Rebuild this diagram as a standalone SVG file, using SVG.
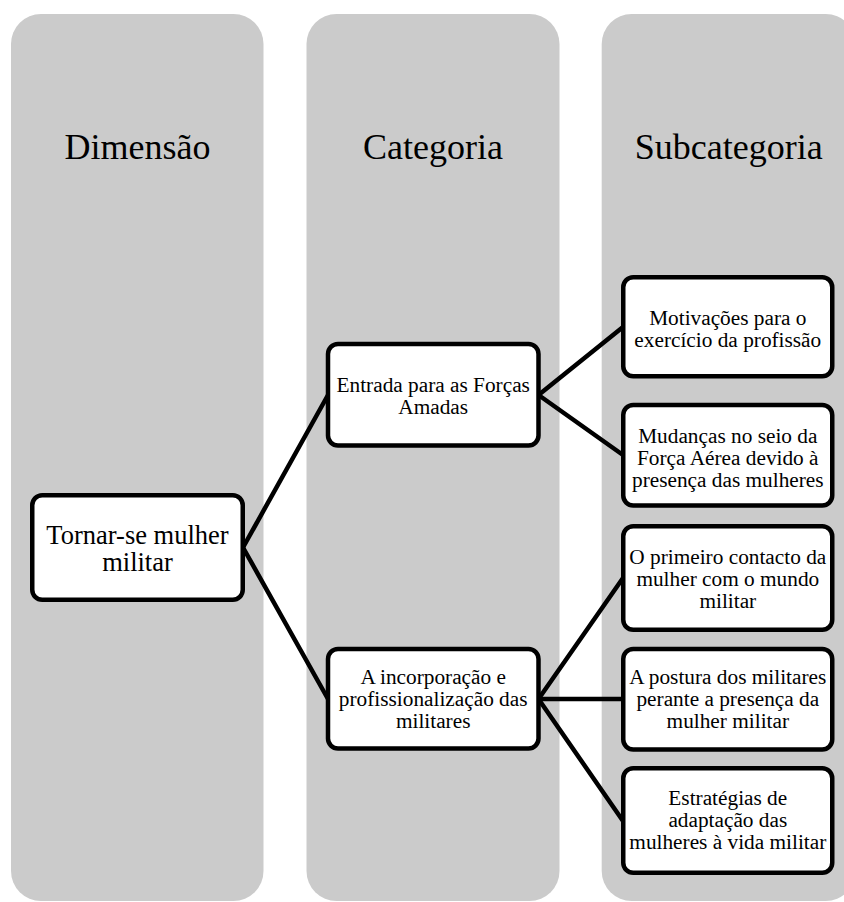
<svg xmlns="http://www.w3.org/2000/svg" width="844" height="902" viewBox="0 0 844 902">
<style>
.col{fill:#cbcbcb;}
.box{fill:#ffffff;stroke:#000000;stroke-width:4.5;}
text{font-family:'Liberation Serif','Times New Roman',Times,'DejaVu Serif',serif;fill:#000;text-anchor:middle;}
.hdr{font-size:36px;}
.t{font-size:21.3px;}
.tb{font-size:26.5px;}
.con{stroke:#000;stroke-width:4.5;fill:none;stroke-linecap:round;}
</style>
<rect x="0" y="0" width="844" height="902" fill="#ffffff"/>
<g id="columns">
<g id="col-dimensao"><rect class="col" x="11" y="14" width="252.5" height="887" rx="30" ry="30"/><text class="hdr" x="137.5" y="159">Dimensão</text></g>
<g id="col-categoria"><rect class="col" x="306.5" y="14" width="253" height="887" rx="30" ry="30"/><text class="hdr" x="433" y="159">Categoria</text></g>
<g id="col-subcategoria"><rect class="col" x="601.7" y="14" width="254" height="887" rx="30" ry="30"/><text class="hdr" x="728.7" y="159">Subcategoria</text></g>
</g>
<g id="connectors">
<line class="con" x1="243" y1="547.5" x2="328" y2="395"/>
<line class="con" x1="243" y1="547.5" x2="328" y2="699"/>
<line class="con" x1="538.5" y1="395" x2="623" y2="327"/>
<line class="con" x1="538.5" y1="395" x2="623" y2="455"/>
<line class="con" x1="538.5" y1="699" x2="623" y2="578"/>
<line class="con" x1="538.5" y1="699" x2="623" y2="699"/>
<line class="con" x1="538.5" y1="699" x2="623" y2="821"/>
</g>
<g id="node-tornar"><rect class="box" x="32.25" y="495.25" width="210.5" height="104.5" rx="10"/><text class="tb" x="137.5" y="543.5">Tornar-se mulher</text><text class="tb" x="137.5" y="570.5">militar</text></g>
<g id="node-entrada"><rect class="box" x="328" y="344" width="210.5" height="101.5" rx="10"/><text class="t" x="433.2" y="392">Entrada para as Forças</text><text class="t" x="433.2" y="414">Amadas</text></g>
<g id="node-incorporacao"><rect class="box" x="328" y="649" width="210.5" height="99.5" rx="10"/><text class="t" x="433.2" y="684">A incorporação e</text><text class="t" x="433.2" y="706">profissionalização das</text><text class="t" x="433.2" y="728">militares</text></g>
<g id="node-motivacoes"><rect class="box" x="623.25" y="277.25" width="209" height="99" rx="10"/><text class="t" x="727.8" y="324.5">Motivações para o</text><text class="t" x="727.8" y="346.5">exercício da profissão</text></g>
<g id="node-mudancas"><rect class="box" x="623.25" y="405" width="209" height="100.5" rx="10"/><text class="t" x="727.8" y="443">Mudanças no seio da</text><text class="t" x="727.8" y="465">Força Aérea devido à</text><text class="t" x="727.8" y="487">presença das mulheres</text></g>
<g id="node-primeiro"><rect class="box" x="623.25" y="526.25" width="209" height="103.5" rx="10"/><text class="t" x="727.8" y="564">O primeiro contacto da</text><text class="t" x="727.8" y="586">mulher com o mundo</text><text class="t" x="727.8" y="608">militar</text></g>
<g id="node-postura"><rect class="box" x="623.25" y="649" width="209" height="100.5" rx="10"/><text class="t" x="727.8" y="684">A postura dos militares</text><text class="t" x="727.8" y="706">perante a presença da</text><text class="t" x="727.8" y="728">mulher militar</text></g>
<g id="node-estrategias"><rect class="box" x="623.25" y="768.25" width="209" height="104.5" rx="10"/><text class="t" x="727.8" y="805">Estratégias de</text><text class="t" x="727.8" y="827">adaptação das</text><text class="t" x="727.8" y="849">mulheres à vida militar</text></g>
</svg>
